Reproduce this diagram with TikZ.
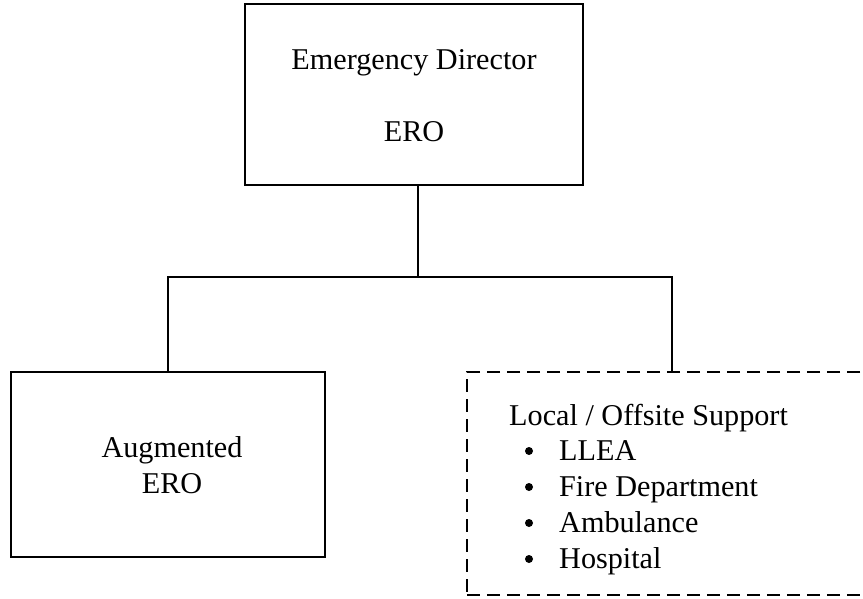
\documentclass[tikz,border=0pt]{standalone}
\usepackage{fontspec}
\setmainfont{Liberation Serif}
\begin{document}
\begin{tikzpicture}[x=1pt,y=-1pt,
  box/.style={draw=black,line width=1.6pt,rectangle,inner sep=0pt},
  dbox/.style={draw=black,line width=1.6pt,rectangle,inner sep=0pt,dash pattern=on 13pt off 7pt},
  conn/.style={draw=black,line width=1.6pt},
  txt/.style={inner sep=0pt,anchor=base,font=\fontsize{30.2}{36}\selectfont},
  ltxt/.style={inner sep=0pt,anchor=base west,font=\fontsize{30.2}{36}\selectfont}]
\useasboundingbox (0,0) rectangle (863,599);
\clip (0,0) rectangle (863,599);
% boxes
\node[box,minimum width=338pt,minimum height=181pt] (top) at (414,94.5) {};
\node[box,minimum width=314pt,minimum height=185pt] (aug) at (168,464.5) {};
\node[dbox,minimum width=405pt,minimum height=223pt] (loc) at (669.5,483.5) {};
% texts
\node[txt] (t1) at (414,70) {Emergency Director};
\node[txt] (t2) at (414,142) {ERO};
\node[txt] (a1) at (172,457) {Augmented};
\node[txt] (a2) at (172,493) {ERO};
\node[ltxt] (l0) at (509,425) {Local / Offsite Support};
\node[ltxt] (l1) at (559,460) {LLEA};
\node[ltxt] (l2) at (559,496) {Fire Department};
\node[ltxt] (l3) at (559,532) {Ambulance};
\node[ltxt] (l4) at (559,568) {Hospital};
\foreach \yy/\nm in {460/b1,496/b2,532/b3,568/b4}
  \node[circle,fill=black,inner sep=0pt,minimum size=8pt] (\nm) at (529,\yy-9) {};
% connectors
\coordinate (j) at (418,277);
\coordinate (jr) at (672,277);
\draw[conn] (top.south -| j) -- (j);
\draw[conn] (aug.north) |- (jr) -- (jr |- loc.north);
\end{tikzpicture}
\end{document}
